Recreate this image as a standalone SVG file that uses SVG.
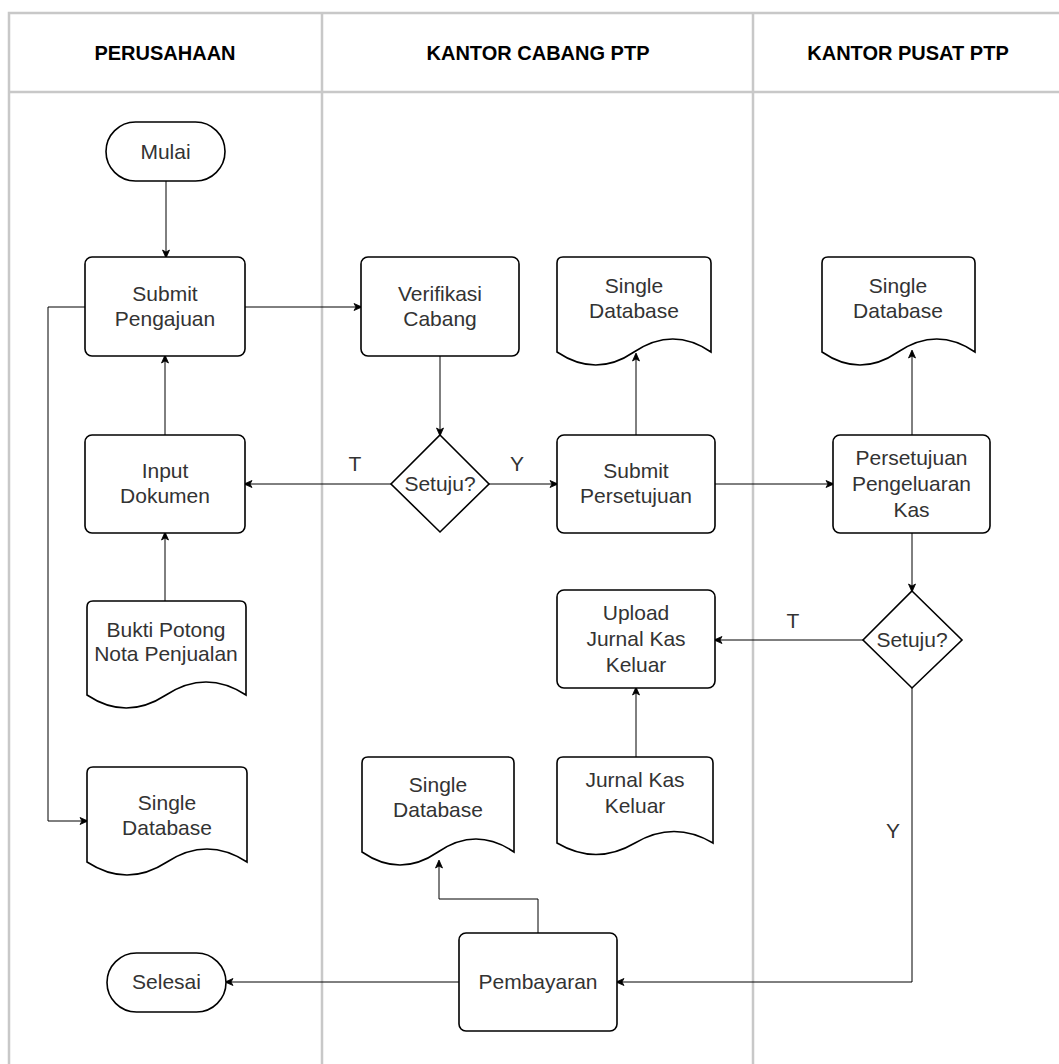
<svg xmlns="http://www.w3.org/2000/svg" width="1059" height="1064" viewBox="0 0 1059 1064">
  <defs>
    <marker id="arr" markerWidth="10" markerHeight="10" refX="8" refY="5" orient="auto" markerUnits="userSpaceOnUse">
      <path d="M1,1.5 L9,5 L1,8.5 L3,5 Z" fill="#000" stroke="#000" stroke-width="0.8"/>
    </marker>
  </defs>
  <style>
    .lane { fill: none; stroke: #c8c8c8; stroke-width: 2.5; }
    .head { font-family: "Liberation Sans", Arial, sans-serif; font-size: 20px; font-weight: bold; fill: #000; text-anchor: middle; }
    .shape { fill: #fff; stroke: #000; stroke-width: 1.6; }
    .lbl { font-family: "Liberation Sans", Arial, sans-serif; font-size: 21px; fill: #333; text-anchor: middle; }
    .edge { fill: none; stroke: #000; stroke-width: 1; }
    .arrow { marker-end: url(#arr); }
  </style>
  <rect width="1059" height="1064" fill="#fff"/>

  <!-- swimlanes -->
  <g id="lanes">
    <path class="lane" d="M9,1070 V13 H1070"/>
    <path class="lane" d="M9,92 H1070"/>
    <path class="lane" d="M322,13 V1070"/>
    <path class="lane" d="M753,13 V1070"/>
    <text class="head" x="165" y="60">PERUSAHAAN</text>
    <text class="head" x="538" y="60">KANTOR CABANG PTP</text>
    <text class="head" x="908" y="60">KANTOR PUSAT PTP</text>
  </g>

  <!-- connectors -->
  <g id="connectors">
    <path class="edge arrow" d="M166,181 V257"/>
    <path class="edge arrow" d="M245,307 H361"/>
    <path class="edge arrow" d="M85,307 H48 V821 H87"/>
    <path class="edge arrow" d="M165,435 V356"/>
    <path class="edge arrow" d="M165,601 V533"/>
    <path class="edge arrow" d="M440,356 V435"/>
    <path class="edge arrow" d="M391,484 H245"/>
    <path class="edge arrow" d="M489,484 H557"/>
    <path class="edge arrow" d="M636,435 V354"/>
    <path class="edge arrow" d="M715,484 H833"/>
    <path class="edge arrow" d="M912,435 V351"/>
    <path class="edge arrow" d="M912,533 V591"/>
    <path class="edge arrow" d="M863,640 H715"/>
    <path class="edge arrow" d="M636,757 V688"/>
    <path class="edge arrow" d="M912,688 V982 H617"/>
    <path class="edge arrow" d="M459,982 H226"/>
    <path class="edge arrow" d="M538,933 V899 H439 V861"/>
    <text class="lbl" x="355" y="471">T</text>
    <text class="lbl" x="517" y="471">Y</text>
    <text class="lbl" x="793" y="628">T</text>
    <text class="lbl" x="893" y="838">Y</text>
  </g>

  <!-- nodes -->
  <g id="mulai">
    <rect class="shape" x="106" y="122" width="119" height="59" rx="29.5"/>
    <text class="lbl" x="165.5" y="158.5">Mulai</text>
  </g>
  <g id="submit-pengajuan">
    <rect class="shape" x="85" y="257" width="160" height="99" rx="7"/>
    <text class="lbl" x="165" y="301">Submit</text>
    <text class="lbl" x="165" y="326">Pengajuan</text>
  </g>
  <g id="input-dokumen">
    <rect class="shape" x="85" y="435" width="160" height="98" rx="7"/>
    <text class="lbl" x="165" y="478">Input</text>
    <text class="lbl" x="165" y="503">Dokumen</text>
  </g>
  <g id="bukti-potong">
    <path class="shape" d="M93,601 H240 Q246,601 246,607 V695 Q206,669 166,695 Q126,721 87,695 V607 Q87,601 93,601 Z"/>
    <text class="lbl" x="166" y="637">Bukti Potong</text>
    <text class="lbl" x="166" y="661">Nota Penjualan</text>
  </g>
  <g id="db-perusahaan">
    <path class="shape" d="M93,767 H241 Q247,767 247,773 V862 Q207,836 167,862 Q127,888 87,862 V773 Q87,767 93,767 Z"/>
    <text class="lbl" x="167" y="810">Single</text>
    <text class="lbl" x="167" y="835">Database</text>
  </g>
  <g id="selesai">
    <rect class="shape" x="107" y="953" width="119" height="59" rx="29.5"/>
    <text class="lbl" x="166.5" y="989">Selesai</text>
  </g>
  <g id="verifikasi-cabang">
    <rect class="shape" x="361" y="257" width="158" height="99" rx="7"/>
    <text class="lbl" x="440" y="301">Verifikasi</text>
    <text class="lbl" x="440" y="326">Cabang</text>
  </g>
  <g id="setuju-cabang">
    <path class="shape" d="M440,435 L489,484 L440,532 L391,484 Z"/>
    <text class="lbl" x="440" y="491">Setuju?</text>
  </g>
  <g id="db-cabang-atas">
    <path class="shape" d="M563,257 H705 Q711,257 711,263 V352 Q673,326 634,352 Q596,378 557,352 V263 Q557,257 563,257 Z"/>
    <text class="lbl" x="634" y="293">Single</text>
    <text class="lbl" x="634" y="318">Database</text>
  </g>
  <g id="submit-persetujuan">
    <rect class="shape" x="557" y="435" width="158" height="98" rx="7"/>
    <text class="lbl" x="636" y="478">Submit</text>
    <text class="lbl" x="636" y="503">Persetujuan</text>
  </g>
  <g id="upload-jurnal">
    <rect class="shape" x="557" y="590" width="158" height="98" rx="7"/>
    <text class="lbl" x="636" y="620">Upload</text>
    <text class="lbl" x="636" y="646">Jurnal Kas</text>
    <text class="lbl" x="636" y="672">Keluar</text>
  </g>
  <g id="jurnal-kas-keluar">
    <path class="shape" d="M563,757 H707 Q713,757 713,763 V843 Q674,820 635,843 Q596,866 557,843 V763 Q557,757 563,757 Z"/>
    <text class="lbl" x="635" y="787">Jurnal Kas</text>
    <text class="lbl" x="635" y="813">Keluar</text>
  </g>
  <g id="db-cabang-bawah">
    <path class="shape" d="M368,757 H508 Q514,757 514,763 V852 Q476,826 438,852 Q400,878 362,852 V763 Q362,757 368,757 Z"/>
    <text class="lbl" x="438" y="792">Single</text>
    <text class="lbl" x="438" y="817">Database</text>
  </g>
  <g id="pembayaran">
    <rect class="shape" x="459" y="933" width="158" height="98" rx="7"/>
    <text class="lbl" x="538" y="989">Pembayaran</text>
  </g>
  <g id="db-pusat">
    <path class="shape" d="M828,257 H969 Q975,257 975,263 V352 Q937,326 898,352 Q860,378 822,352 V263 Q822,257 828,257 Z"/>
    <text class="lbl" x="898" y="293">Single</text>
    <text class="lbl" x="898" y="318">Database</text>
  </g>
  <g id="persetujuan-pengeluaran">
    <rect class="shape" x="833" y="435" width="157" height="98" rx="7"/>
    <text class="lbl" x="911.5" y="465">Persetujuan</text>
    <text class="lbl" x="911.5" y="491">Pengeluaran</text>
    <text class="lbl" x="911.5" y="517">Kas</text>
  </g>
  <g id="setuju-pusat">
    <path class="shape" d="M912,591 L962,640 L912,688 L863,640 Z"/>
    <text class="lbl" x="912" y="647">Setuju?</text>
  </g>
</svg>
